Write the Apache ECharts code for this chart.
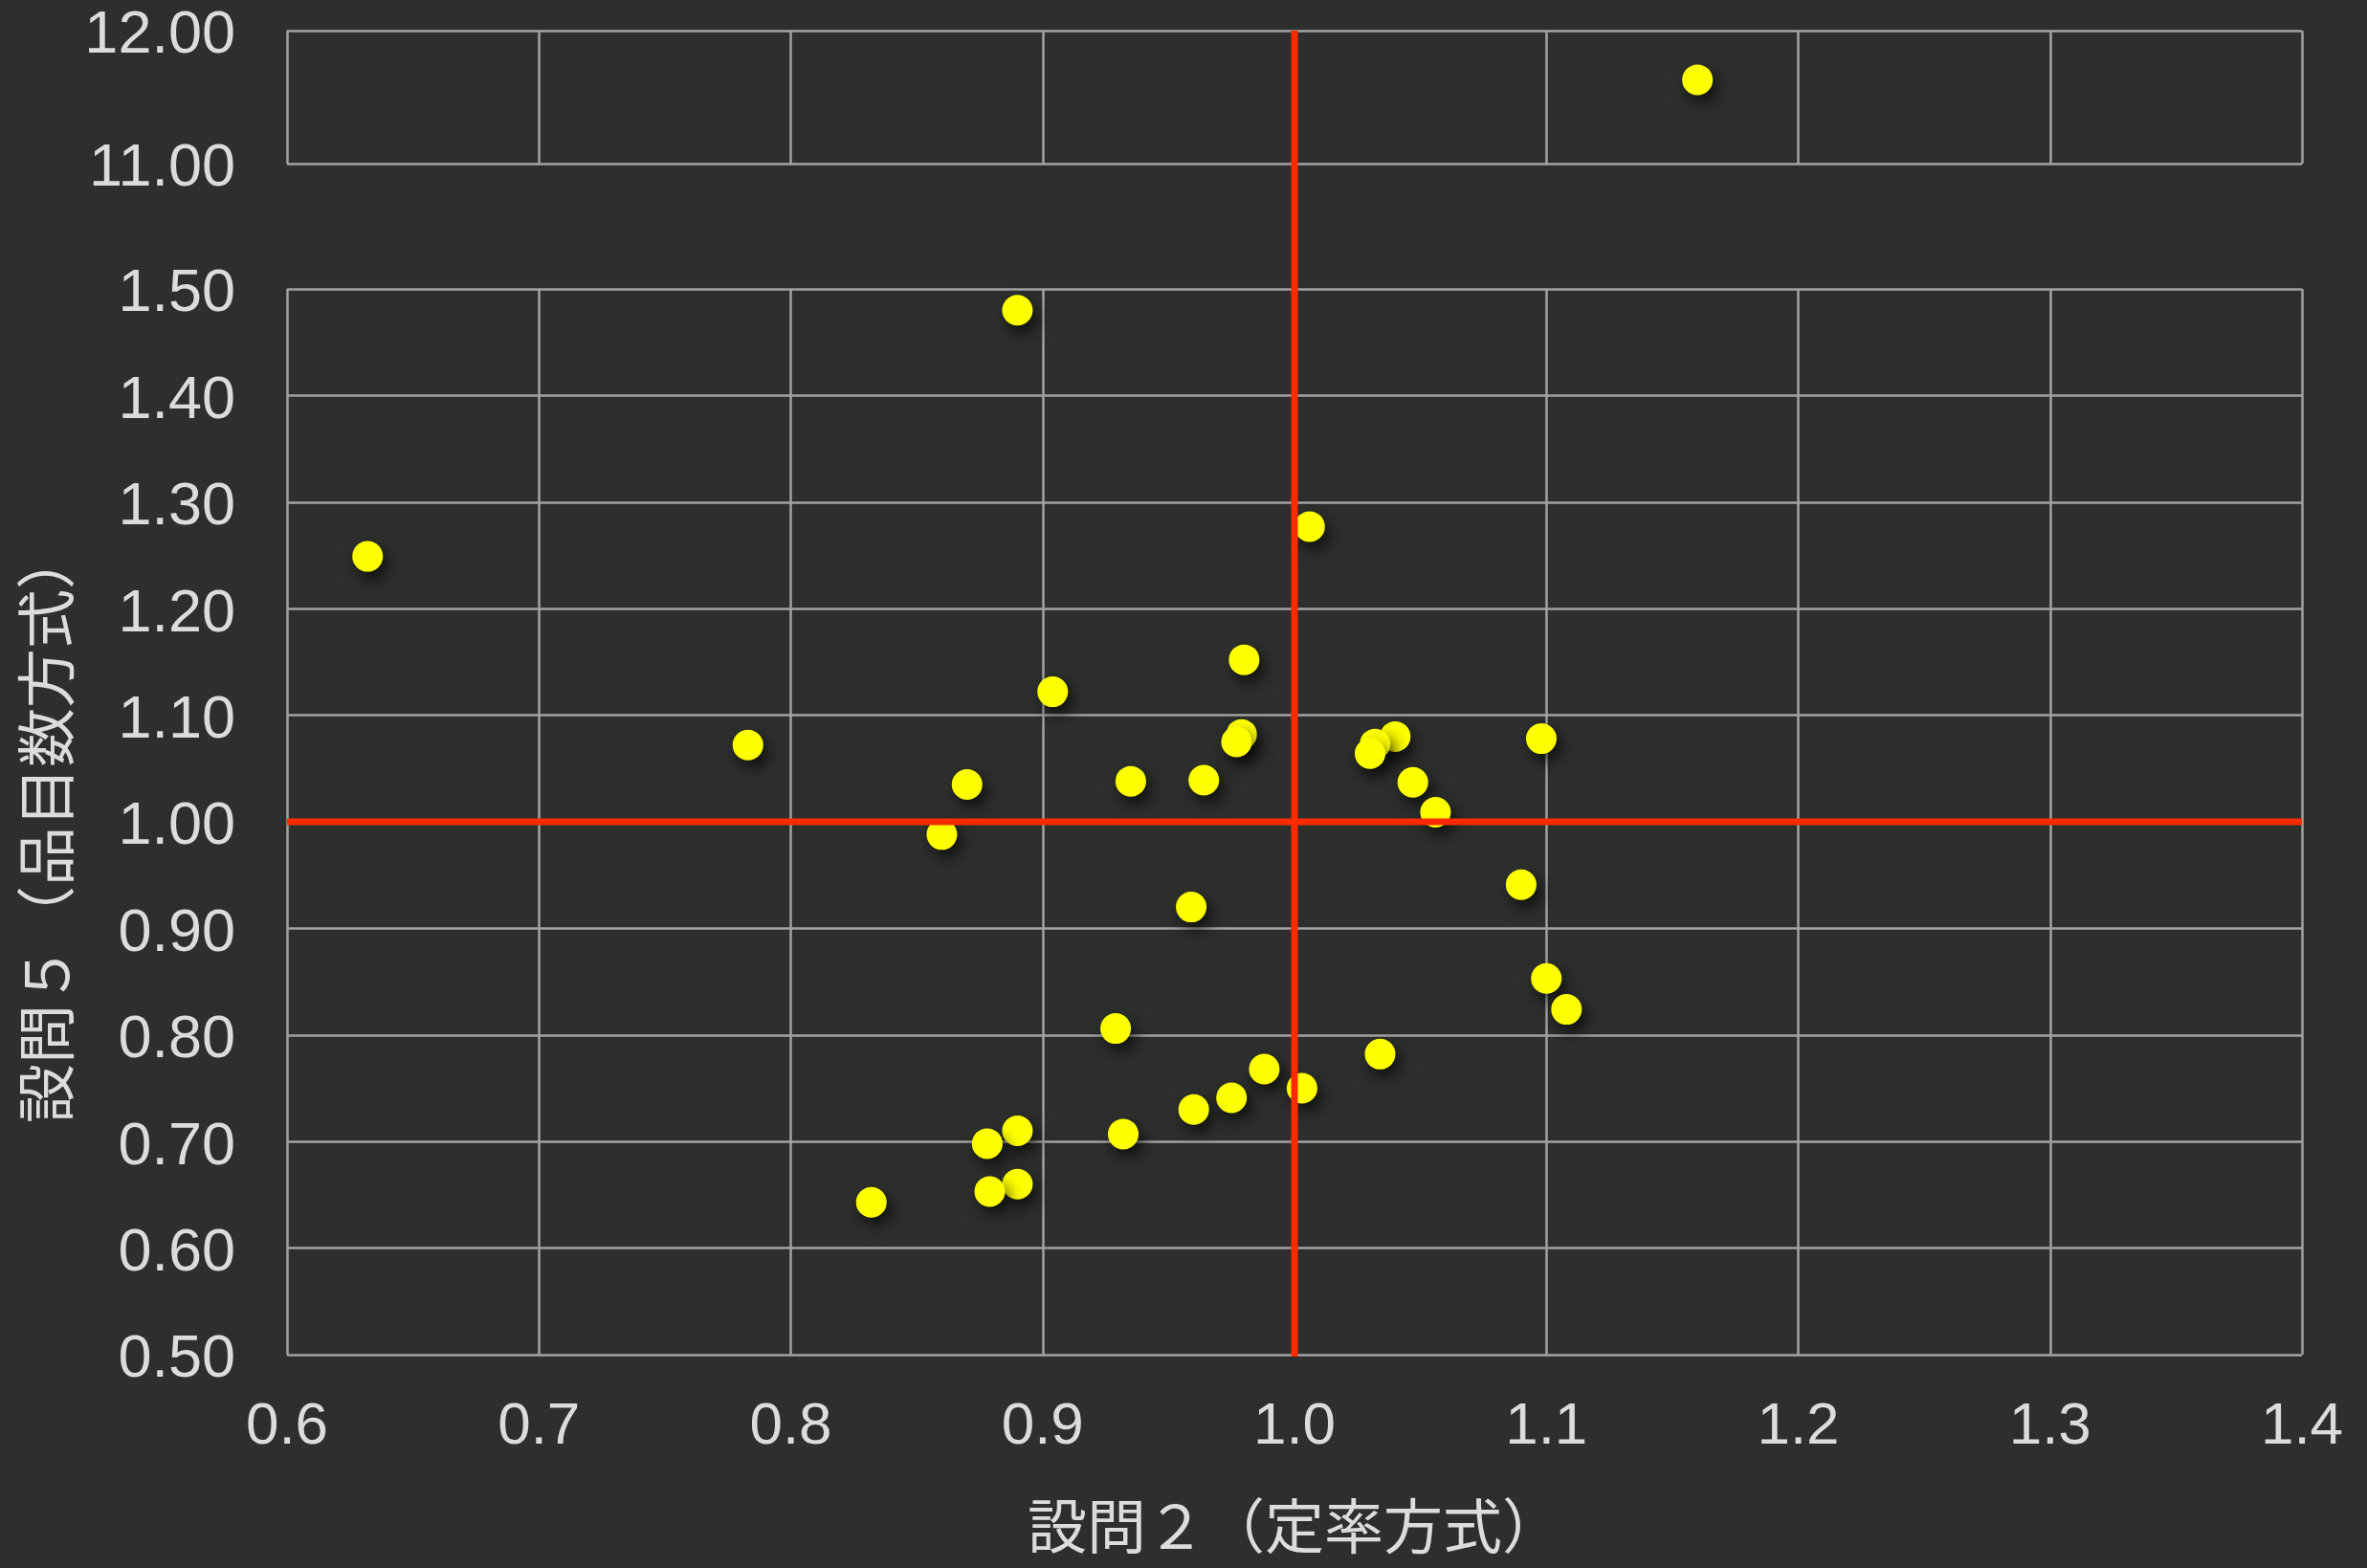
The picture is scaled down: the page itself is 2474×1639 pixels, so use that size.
<!DOCTYPE html>
<html>
<head>
<meta charset="utf-8">
<script src="https://cdn.jsdelivr.net/npm/echarts@6/dist/echarts.min.js"></script>
<style>
html,body{margin:0;padding:0;background:#2c2f2b;}
#chart{width:2474px;height:1639px;}
</style>
</head>
<body>
<div id="chart"></div>
<script>
// ---- data ----
const xAxisTitle = '設問２（定率方式）';
const yAxisTitle = '設問５（品目数方式）';
const xMin = 0.6, xMax = 1.4, xStep = 0.1;
const lowerYMin = 0.5, lowerYMax = 1.5, lowerYStep = 0.1;
const upperYMin = 11, upperYMax = 12, upperYStep = 1;
const refX = 1.0;
const refY = 1.0;

// points above the axis break (y between 11 and 12)
const upperX = [1.160];
const upperY = [11.63];

// points in the main range (y between 0.5 and 1.5)
const lowerX = [0.890, 1.006, 0.632, 0.980, 0.904, 0.783, 0.979, 0.977, 1.098, 1.040,
                1.032, 1.030, 0.870, 0.935, 0.964, 1.047, 1.056, 0.860, 1.090, 0.959,
                1.100, 1.108, 0.929, 1.034, 0.988, 1.003, 0.975, 0.960, 0.932, 0.890,
                0.878, 0.890, 0.879, 0.832];
const lowerY = [1.480, 1.277, 1.249, 1.152, 1.122, 1.072, 1.082, 1.075, 1.078, 1.080,
                1.073, 1.064, 1.035, 1.038, 1.039, 1.037, 1.009, 0.988, 0.941, 0.920,
                0.853, 0.824, 0.806, 0.782, 0.768, 0.750, 0.741, 0.730, 0.707, 0.710,
                0.698, 0.660, 0.653, 0.643];

// ---- styles ----
const textColor = '#dcdcdc';
const gridColor = '#a3a3a3';
const redColor = '#ff2a00';
const latin = '"Liberation Sans", Arial, sans-serif';
const cjk = '"Noto Sans CJK JP", sans-serif';

const pointStyle = {
  color: '#ffff00',
  opacity: 1,
  shadowColor: 'rgba(0,0,0,0.65)',
  shadowBlur: 16,
  shadowOffsetX: 5,
  shadowOffsetY: 8
};

function xAxisCfg(gridIndex, showLabels) {
  return {
    type: 'value', gridIndex, min: xMin, max: xMax, interval: xStep,
    axisLine: {show: false}, axisTick: {show: false},
    axisLabel: {show: showLabels, color: textColor, fontSize: 62, fontFamily: latin,
                margin: 45, formatter: v => v.toFixed(1)},
    splitLine: {show: true, lineStyle: {color: gridColor, width: 2.5}}
  };
}
function yAxisCfg(gridIndex, min, max, step) {
  return {
    type: 'value', gridIndex, min, max, interval: step,
    axisLine: {show: false}, axisTick: {show: false},
    axisLabel: {color: textColor, fontSize: 63, fontFamily: latin, margin: 54,
                formatter: v => '{v|' + v.toFixed(2) + '}',
                rich: {v: {color: textColor, fontSize: 63, fontFamily: latin,
                           lineHeight: 63, padding: [12, 0, 0, 0]}}},
    splitLine: {show: true, lineStyle: {color: gridColor, width: 2.5}}
  };
}

const upperData = upperX.map((x, i) => [x, upperY[i]]);
const lowerData = lowerX.map((x, i) => [x, lowerY[i]]);

const option = {
  backgroundColor: '#2c2f2b',
  animation: false,
  grid: [
    {left: 300, right: 68, top: 32, height: 139, outerBoundsMode: 'none', containLabel: false},
    {left: 300, right: 68, top: 302, bottom: 223, outerBoundsMode: 'none', containLabel: false},
    {left: 300, right: 68, top: 32, bottom: 221, outerBoundsMode: 'none', containLabel: false}
  ],
  xAxis: [
    xAxisCfg(0, false),
    Object.assign(xAxisCfg(1, true), {
      name: xAxisTitle, nameLocation: 'middle', nameGap: 148,
      nameTextStyle: {color: textColor, fontSize: 62, fontFamily: cjk}
    }),
    {type: 'value', gridIndex: 2, min: xMin, max: xMax, show: false}
  ],
  yAxis: [
    yAxisCfg(0, upperYMin, upperYMax, upperYStep),
    yAxisCfg(1, lowerYMin, lowerYMax, lowerYStep),
    {type: 'value', gridIndex: 2, min: 0, max: 1, show: false}
  ],
  graphic: [{
    type: 'text',
    x: 48, y: 864,
    rotation: Math.PI / 2,
    style: {
      text: yAxisTitle, fill: textColor, fontSize: 62, fontFamily: cjk,
      align: 'center', verticalAlign: 'middle'
    }
  }],
  series: [
    {type: 'scatter', xAxisIndex: 0, yAxisIndex: 0, data: upperData,
     symbolSize: 32, itemStyle: pointStyle, z: 3},
    {type: 'scatter', xAxisIndex: 1, yAxisIndex: 1, data: lowerData,
     symbolSize: 32, itemStyle: pointStyle, z: 3},
    {type: 'line', xAxisIndex: 1, yAxisIndex: 1, data: [[xMin, refY], [xMax, refY]],
     symbol: 'none', lineStyle: {color: redColor, width: 7}, z: 10, silent: true},
    {type: 'line', xAxisIndex: 2, yAxisIndex: 2, data: [[refX, 0], [refX, 1]],
     symbol: 'none', lineStyle: {color: redColor, width: 7}, z: 10, silent: true}
  ]
};

const chart = echarts.init(document.getElementById('chart'));
chart.setOption(option);
</script>
</body>
</html>
